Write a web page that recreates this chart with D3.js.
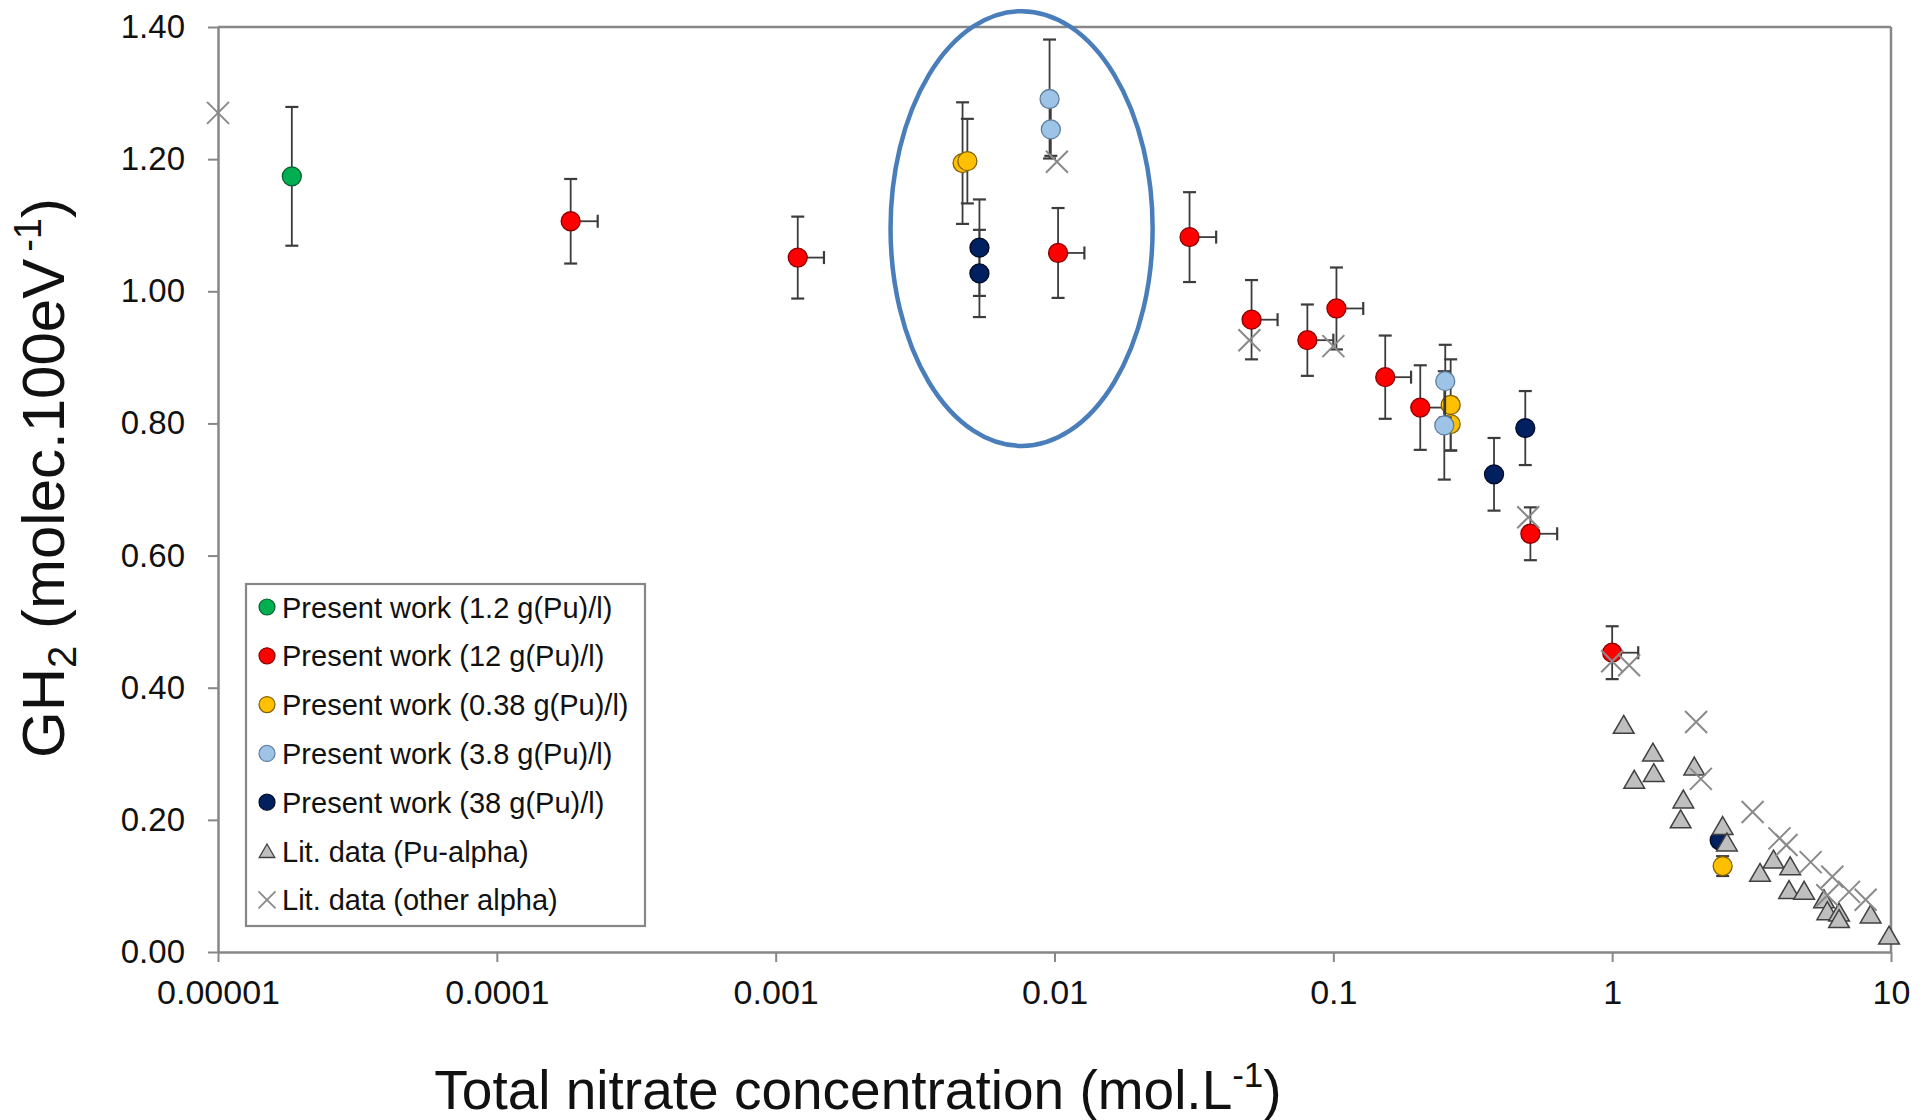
<!DOCTYPE html>
<html><head><meta charset="utf-8">
<script src="https://cdn.jsdelivr.net/npm/d3@7"></script>
<style>
html,body{margin:0;padding:0;background:#fff;}
svg{display:block;font-family:"Liberation Sans",Arial,sans-serif;}
</style></head><body>
<svg id="chart" width="1922" height="1120"></svg>
<script>
// ---- tick labels ----
const yTicks = [0, 0.2, 0.4, 0.6, 0.8, 1.0, 1.2, 1.4];
const xTicks = [0.00001, 0.0001, 0.001, 0.01, 0.1, 1, 10];
const xTickLabels = ["0.00001", "0.0001", "0.001", "0.01", "0.1", "1", "10"];

// ---- Present work (1.2 g(Pu)/l) ----
const green_x = [1.84e-5];
const green_y = [1.174];
const green_err = [0.105];
const green_xhi = [null];

// ---- Present work (12 g(Pu)/l) ----
const red_x = [1.84e-4, 0.0012, 0.0103, 0.0305, 0.0509, 0.0807, 0.1026, 0.1535, 0.205, 0.509, 1.0];
const red_y = [1.106, 1.051, 1.058, 1.082, 0.957, 0.926, 0.974, 0.870, 0.824, 0.633, 0.453];
const red_err = [0.064, 0.062, 0.068, 0.068, 0.060, 0.054, 0.062, 0.063, 0.064, 0.040, 0.040];
const red_xhi = [2.30e-4, 0.00149, 0.0128, 0.038, 0.0631, 0.10, 0.128, 0.19, 0.25, 0.635, 1.24];

// ---- Present work (0.38 g(Pu)/l) ----
const yel_x = [0.00468, 0.00487, 0.2635, 0.2635, 2.49];
const yel_y = [1.194, 1.197, 0.828, 0.799, 0.130];
const yel_err = [0.092, 0.064, 0.069, 0.040, 0.015];
const yel_xhi = [null, null, null, null, null];

// ---- Present work (3.8 g(Pu)/l) ----
const lb_x = [0.0096, 0.0097, 0.252, 0.250];
const lb_y = [1.291, 1.245, 0.864, 0.797];
const lb_err = [0.090, 0.040, 0.055, 0.082];
const lb_xhi = [null, null, null, null];

// ---- Present work (38 g(Pu)/l) ----
const navy_x = [0.00538, 0.00538, 0.377, 0.488, 2.43];
const navy_y = [1.066, 1.027, 0.723, 0.793, 0.169];
const navy_err = [0.073, 0.066, 0.055, 0.056, 0.010];
const navy_xhi = [null, null, null, null, null];

// ---- Lit. data (Pu-alpha) ----
const tri_x = [1.10, 1.40, 1.41, 1.20, 1.97, 1.80, 1.76, 2.49, 2.58, 3.79, 4.35, 3.39, 4.31, 4.88, 5.75, 5.91, 6.51, 6.51, 8.45, 9.84];
const tri_y = [0.340, 0.298, 0.267, 0.257, 0.277, 0.227, 0.197, 0.187, 0.162, 0.136, 0.126, 0.116, 0.090, 0.089, 0.076, 0.058, 0.056, 0.046, 0.053, 0.021];

// ---- Lit. data (other alpha) ----
const cross_x = [1e-5, 0.0102, 0.050, 0.100, 0.50, 1.0, 1.15, 2.0, 2.08, 3.19, 3.98, 4.22, 5.15, 6.16, 5.91, 7.07, 8.11];
const cross_y = [1.27, 1.196, 0.926, 0.917, 0.658, 0.44, 0.434, 0.348, 0.262, 0.212, 0.172, 0.162, 0.136, 0.114, 0.086, 0.091, 0.079];

// ---- annotation ellipse (data coords: centre, half-width in decades, half-height) ----
const ellipse_cx = 0.00762, ellipse_rdec = 0.470, ellipse_cy = 1.095, ellipse_ry = 0.329;

const legendLabels = ["Present work (1.2 g(Pu)/l)", "Present work (12 g(Pu)/l)", "Present work (0.38 g(Pu)/l)",
  "Present work (3.8 g(Pu)/l)", "Present work (38 g(Pu)/l)", "Lit. data (Pu-alpha)", "Lit. data (other alpha)"];

// ================= drawing =================
const M = {l: 218, t: 27, r: 1891, b: 952};
const x = d3.scaleLog().domain([1e-5, 10]).range([M.l, M.r]);
const y = d3.scaleLinear().domain([0, 1.4]).range([M.b, M.t]);
const svg = d3.select('#chart');
const axisColor = '#878787';
const errColor = '#3c3c3c';

const series = [
  {name: legendLabels[0], fill: '#00b050', stroke: '#0b5e30', xs: green_x, ys: green_y, es: green_err, xh: green_xhi},
  {name: legendLabels[1], fill: '#ff0000', stroke: '#8a0000', xs: red_x, ys: red_y, es: red_err, xh: red_xhi},
  {name: legendLabels[2], fill: '#ffc000', stroke: '#7f6000', xs: yel_x, ys: yel_y, es: yel_err, xh: yel_xhi},
  {name: legendLabels[3], fill: '#9dc3e6', stroke: '#5f7f9f', xs: lb_x, ys: lb_y, es: lb_err, xh: lb_xhi},
  {name: legendLabels[4], fill: '#002060', stroke: '#000b26', xs: navy_x, ys: navy_y, es: navy_err, xh: navy_xhi}
];

// border top & right
svg.append('line').attr('x1', M.l).attr('x2', M.r).attr('y1', M.t).attr('y2', M.t)
  .attr('stroke', axisColor).attr('stroke-width', 2.5);
svg.append('line').attr('x1', M.r).attr('x2', M.r).attr('y1', M.t).attr('y2', M.b)
  .attr('stroke', axisColor).attr('stroke-width', 2.5);

// axes
const gx = svg.append('g').attr('transform', `translate(0,${M.b})`)
  .call(d3.axisBottom(x).tickValues(xTicks).tickFormat((d, i) => xTickLabels[i]).tickSize(10).tickSizeOuter(0).tickPadding(18));
const gy = svg.append('g').attr('transform', `translate(${M.l},0)`)
  .call(d3.axisLeft(y).tickValues(yTicks).tickFormat(d3.format('.2f')).tickSize(10).tickSizeOuter(0).tickPadding(23));
[gx, gy].forEach(g => {
  g.attr('font-family', null).attr('font-size', null);
  g.select('.domain').attr('stroke', axisColor).attr('stroke-width', 2.5);
  g.selectAll('.tick line').attr('stroke', axisColor).attr('stroke-width', 2);
  g.selectAll('.tick text').attr('fill', '#111');
});
gx.selectAll('.tick text').attr('font-size', 34);
gy.selectAll('.tick text').attr('font-size', 33);

// axis titles
const xt = svg.append('text').attr('x', 858).attr('y', 1109).attr('text-anchor', 'middle')
  .attr('font-size', 55).attr('fill', '#111');
xt.append('tspan').text('Total nitrate concentration (mol.L');
xt.append('tspan').attr('font-size', 35).attr('dy', -22).text('-1');
xt.append('tspan').attr('dy', 22).text(')');

const yt = svg.append('text').attr('transform', 'translate(64,478) rotate(-90)').attr('text-anchor', 'middle')
  .attr('font-size', 60).attr('fill', '#111');
yt.append('tspan').text('GH');
yt.append('tspan').attr('font-size', 40).attr('dy', 12).text('2');
yt.append('tspan').attr('dy', -12).text(' (molec.100eV');
yt.append('tspan').attr('font-size', 38).attr('dy', -23).attr('dx', 7).text('-1');
yt.append('tspan').attr('dy', 23).text(')');

// annotation ellipse
const ecx = x(ellipse_cx), ecy = y(ellipse_cy);
svg.append('ellipse').attr('cx', ecx).attr('cy', ecy)
  .attr('rx', x(ellipse_cx * Math.pow(10, ellipse_rdec)) - ecx)
  .attr('ry', y(ellipse_cy - ellipse_ry) - ecy)
  .attr('fill', 'none').attr('stroke', '#4a7ebb').attr('stroke-width', 4.5);

// series with error bars
const cap = 6.5;
series.forEach(s => {
  const g = svg.append('g');
  const pts = s.xs.map((v, i) => ({x: v, y: s.ys[i], e: s.es[i], xh: s.xh[i]}));
  pts.forEach(p => {
    const px = x(p.x), py = y(p.y), t = y(p.y + p.e), b = y(p.y - p.e);
    g.append('line').attr('x1', px).attr('x2', px).attr('y1', t).attr('y2', b)
      .attr('stroke', errColor).attr('stroke-width', 1.8);
    g.append('line').attr('x1', px - cap).attr('x2', px + cap).attr('y1', t).attr('y2', t)
      .attr('stroke', errColor).attr('stroke-width', 2.2);
    g.append('line').attr('x1', px - cap).attr('x2', px + cap).attr('y1', b).attr('y2', b)
      .attr('stroke', errColor).attr('stroke-width', 2.2);
    if (p.xh != null) {
      const xr = x(p.xh);
      g.append('line').attr('x1', px).attr('x2', xr).attr('y1', py).attr('y2', py)
        .attr('stroke', errColor).attr('stroke-width', 1.8);
      g.append('line').attr('x1', xr).attr('x2', xr).attr('y1', py - cap).attr('y2', py + cap)
        .attr('stroke', errColor).attr('stroke-width', 2.2);
    }
  });
  g.selectAll('circle').data(pts).join('circle')
    .attr('cx', d => x(d.x)).attr('cy', d => y(d.y)).attr('r', 9.5)
    .attr('fill', s.fill).attr('stroke', s.stroke).attr('stroke-width', 1.3);
});

// triangles
const triPath = d3.symbol(d3.symbolTriangle, 185)();
svg.append('g').selectAll('path').data(tri_x.map((v, i) => [v, tri_y[i]])).join('path')
  .attr('d', triPath).attr('transform', d => `translate(${x(d[0])},${y(d[1])})`)
  .attr('fill', '#bfbfbf').attr('stroke', '#404040').attr('stroke-width', 1.5);

// crosses
const cs = 11;
const crossPath = `M${-cs},${-cs}L${cs},${cs}M${-cs},${cs}L${cs},${-cs}`;
svg.append('g').selectAll('path').data(cross_x.map((v, i) => [v, cross_y[i]])).join('path')
  .attr('d', crossPath).attr('transform', d => `translate(${x(d[0])},${y(d[1])})`)
  .attr('fill', 'none').attr('stroke', '#8a8a8a').attr('stroke-width', 2);

// legend
const lg = svg.append('g');
lg.append('rect').attr('x', 246).attr('y', 584).attr('width', 399).attr('height', 342)
  .attr('fill', '#fff').attr('stroke', axisColor).attr('stroke-width', 2.2);
const rowY = i => 607 + i * 48.8;
legendLabels.forEach((lab, i) => {
  const cy = rowY(i), mx = 267;
  if (i < 5) {
    lg.append('circle').attr('cx', mx).attr('cy', cy).attr('r', 8)
      .attr('fill', series[i].fill).attr('stroke', series[i].stroke).attr('stroke-width', 1.2);
  } else if (i === 5) {
    lg.append('path').attr('d', d3.symbol(d3.symbolTriangle, 105)()).attr('transform', `translate(${mx},${cy + 2})`)
      .attr('fill', '#bfbfbf').attr('stroke', '#404040').attr('stroke-width', 1.3);
  } else {
    const c = 8.5;
    lg.append('path').attr('d', `M${-c},${-c}L${c},${c}M${-c},${c}L${c},${-c}`).attr('transform', `translate(${mx},${cy})`)
      .attr('fill', 'none').attr('stroke', '#8a8a8a').attr('stroke-width', 1.8);
  }
  lg.append('text').attr('x', 282).attr('y', cy + 10.5).attr('font-size', 29).attr('fill', '#111').text(lab);
});
</script>
</body></html>
